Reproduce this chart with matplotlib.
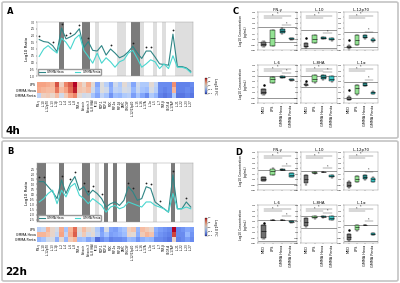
import matplotlib
matplotlib.use("Agg")
import matplotlib.pyplot as plt
import matplotlib.patches as mpatches
import numpy as np

W, H = 400, 283

cytokines = ["IFN-γ", "IL-10", "IL-12p70", "IL-13", "IL-1β", "IL-2", "IL-4", "IL-6",
             "IL-8", "TNF-α", "Eotaxin", "Eotaxin-3", "IL-8 (HA)", "IP-10", "MCP-1",
             "MCP-4", "MDC", "MIP-1α", "MIP-1β", "TARC", "GM-CSF", "IL-12/23p40",
             "IL-15", "IL-16", "IL-17A", "IL-1α", "IL-5", "IL-7", "TNF-β", "VEGF-A",
             "IL-17A/F", "IL-21", "IL-22", "IL-23", "IL-27"]
heat_rows = ["LPS", "GMMA Hexa", "GMMA Penta"]

# 4h log10 ratio
hexa_4h = [1.70, 1.55, 1.50, 1.25, 0.80, 2.55, 1.75, 1.90, 2.10, 2.50, 1.10, 1.55, 0.90,
           0.85, 1.25, 0.55, 1.00, 0.70, 0.35, 0.50, 0.80, 1.20, 0.70, 0.30, 0.85, 0.85,
           0.40, -0.10, -0.15, -0.20, 2.10, -0.30, -0.30, -0.40, -0.65]
penta_4h = [0.45, 1.00, 1.25, 0.95, 0.70, 1.80, 1.50, 1.00, 1.75, 2.05, 0.90, 0.45, -0.05,
            0.70, -0.05, 0.35, 0.05, -0.35, 0.05, 0.20, 0.70, 0.90, 0.30, -0.35, -0.10,
            0.20, 0.05, -0.45, -0.10, -0.45, 0.50, -0.35, -0.35, -0.45, -0.75]
stars_4h = [0, 3, 5, 6, 7, 9, 11, 16, 21, 24, 25, 30]
dark_4h = [5, 10, 11, 21, 22]
light_4h = [13, 18, 19, 23, 26, 28, 31, 32, 33, 34]
lps_fc_4h = [0.45, 0.45, 0.40, 0.35, 0.80, 0.15, 0.60, 0.75, 1.00, 0.30, 0.10, 0.40, 0.05,
             -0.55, 0.00, -0.25, -0.55, -0.10, -0.30, 0.05, -0.15, -0.55, -0.10, -0.30,
             -0.30, 0.05, -0.20, -0.70, -0.70, -0.70, 0.55, -0.75, -0.75, -0.75, -0.70]
hexa_fc_4h = [0.40, 0.35, 0.30, 0.30, 0.65, 0.30, 0.45, 0.70, 0.95, 0.25, 0.20, 0.30, -0.10,
              -0.45, 0.00, -0.10, -0.50, -0.20, -0.25, -0.05, -0.10, -0.45, -0.15, -0.35,
              -0.40, -0.05, -0.25, -0.70, -0.75, -0.70, 0.35, -0.75, -0.75, -0.70, -0.75]
penta_fc_4h = [-0.20, 0.15, 0.20, 0.10, 0.30, -0.10, 0.20, 0.45, 0.60, 0.05, -0.10, -0.05,
               -0.35, -0.55, -0.20, -0.35, -0.65, -0.40, -0.45, -0.30, -0.25, -0.60, -0.35,
               -0.55, -0.70, -0.30, -0.45, -0.75, -0.80, -0.75, -0.30, -0.80, -0.80, -0.75, -0.80]

# 22h log10 ratio
hexa_22h = [1.27, 1.27, 0.77, 0.27, -0.40, 1.43, 0.10, 1.10, 1.77, 0.43, 0.77, -0.07, 0.43,
            0.10, -0.40, -1.23, -0.90, -0.73, -1.07, -0.57, 0.77, 0.27, -0.57, -0.40, 0.77,
            0.60, -0.73, -1.07, -1.40, -1.73, 1.93, -1.40, -1.40, -0.73, -1.23]
penta_22h = [-0.73, -0.40, 0.10, 0.43, -0.90, 0.43, -0.23, 0.77, 1.10, -0.07, -0.40, -0.90,
             -0.40, -0.73, -1.07, -1.73, -1.23, -1.07, -1.40, -1.23, -0.73, -0.90, -1.07,
             -1.23, -0.73, -0.73, -1.07, -1.23, -1.40, -1.73, 0.10, -1.40, -1.40, -1.23, -1.40]
stars_22h = [0, 1, 5, 7, 8, 10, 11, 12, 14, 20, 21, 24, 25, 27, 30, 33]
dark_22h = [0, 1, 5, 10, 11, 15, 17, 20, 21, 22, 30]
light_22h = [13, 26, 32, 33, 34]
lps_fc_22h = [-0.25, -0.15, 0.35, 0.10, -0.05, 0.40, -0.35, 0.35, 0.70, 0.05, 0.30, 0.10,
              0.00, -0.30, -0.60, -0.05, -0.55, -0.60, -0.45, -0.35, 0.15, 0.25, -0.45,
              0.30, 0.20, 0.10, -0.50, -0.60, -0.65, -0.70, 1.00, -0.70, -0.65, -0.55, -0.60]
hexa_fc_22h = [0.35, 0.35, 0.25, 0.10, -0.15, 0.45, -0.20, 0.40, 0.75, -0.05, 0.20, -0.10,
               0.05, -0.25, -0.55, -0.35, -0.60, -0.55, -0.50, -0.40, 0.10, 0.05, -0.50,
               0.20, 0.35, 0.25, -0.55, -0.65, -0.70, -0.75, 0.85, -0.70, -0.70, -0.45, -0.65]
penta_fc_22h = [-0.45, -0.35, -0.10, -0.05, -0.50, 0.05, -0.45, 0.20, 0.35, -0.40, -0.35,
                -0.55, -0.40, -0.85, -0.70, -0.60, -0.75, -0.70, -0.70, -0.65, -0.40, -0.45,
                -0.65, -0.50, -0.40, -0.45, -0.70, -0.70, -0.75, -0.80, 0.10, -0.75, -0.70,
                -0.60, -0.70]

# box plots, log10 pg/mL: [whislo, q1, med, q3, whishi] for MED, LPS, GMMA Hexa, GMMA Penta
box_groups = ["MED", "LPS", "GMMA Hexa", "GMMA Penta"]
box_titles = ["IFN-γ", "IL-10", "IL-12p70", "IL-6", "IL-8HA", "IL-1α"]
c_ifng = [[-1.4, -1.2, -0.9, -0.6, -0.4], [-1.3, -1.2, 0.2, 1.6, 1.7], [1.0, 1.2, 1.5, 1.8, 2.0], [-0.2, 0.0, 0.1, 0.25, 0.3]]
c_il10 = [[-1.6, -1.5, -1.2, -0.8, -0.7], [-0.8, -0.7, 0.0, 0.7, 0.8], [0.0, 0.05, 0.25, 0.4, 0.45], [-0.3, -0.2, 0.0, 0.2, 0.25]]
c_il12 = [[-1.8, -1.7, -1.5, -1.2, -1.1], [-1.1, -1.0, -0.1, 0.7, 0.8], [0.1, 0.2, 0.45, 0.7, 0.8], [-0.5, -0.4, -0.15, 0.1, 0.15]]
c_il6 = [[-0.5, -0.4, 0.0, 0.5, 0.6], [1.6, 1.7, 2.4, 2.7, 2.8], [2.55, 2.6, 2.8, 2.95, 3.0], [2.1, 2.15, 2.25, 2.35, 2.4]]
c_il8 = [[1.2, 1.3, 1.4, 1.5, 1.6], [1.7, 1.8, 2.4, 3.1, 3.2], [2.3, 2.4, 2.8, 3.1, 3.2], [1.9, 2.0, 2.5, 2.9, 3.0]]
c_il1a = [[-1.5, -1.4, -1.2, -0.9, -0.8], [-0.5, -0.4, 0.8, 1.3, 1.4], [1.1, 1.2, 1.4, 1.6, 1.7], [-0.35, -0.3, -0.05, 0.1, 0.15]]
c_fliers = [[], [0.3], [-0.2], [1.35], [2.1], [0.45]]
c_refs = [[2.3, -0.5], [1.65, -1.7], [1.35, -1.4], [3.0, -1.1], [2.9, 1.0], [1.95, -1.1]]

d_ifng = [[-0.35, -0.3, 0.0, 0.4, 0.45], [0.7, 0.75, 1.5, 1.95, 2.0], [1.75, 1.76, 1.77, 1.78, 1.8], [0.4, 0.45, 0.8, 1.15, 1.2]]
d_il10 = [[-1.0, -0.8, 0.0, 0.7, 0.8], [1.0, 1.05, 1.2, 1.35, 1.4], [1.33, 1.34, 1.35, 1.36, 1.37], [0.3, 0.35, 0.5, 0.7, 0.75]]
d_il12 = [[-1.6, -1.5, -1.1, -0.5, -0.4], [-0.5, -0.45, 0.0, 0.55, 0.6], [-0.1, -0.05, 0.4, 0.7, 0.75], [-0.5, -0.45, 0.0, 0.3, 0.35]]
d_il6 = [[-1.2, -1.1, 0.2, 1.3, 1.4], [2.24, 2.25, 2.26, 2.27, 2.28], [2.23, 2.25, 2.26, 2.28, 2.3], [1.75, 1.8, 1.95, 2.05, 2.1]]
d_il8 = [[0.9, 1.05, 1.8, 2.55, 2.6], [2.5, 2.57, 2.8, 3.0, 3.05], [2.65, 2.7, 2.85, 2.98, 3.0], [2.2, 2.26, 2.6, 2.98, 3.0]]
d_il1a = [[-1.6, -1.5, -0.9, -0.35, -0.3], [0.3, 0.35, 0.9, 1.35, 1.4], [1.33, 1.34, 1.35, 1.36, 1.37], [-0.6, -0.55, -0.4, -0.2, -0.15]]
d_fliers = [[], [], [], [1.7], [], [0.45]]
d_refs = [[1.77, -0.95], [1.47, -2.0], [1.47, -2.0], [2.26, -1.7], [3.0, 0.75], [1.35, -1.7]]

hexa_color = "#2f8585"
penta_color = "#48d6cf"
box_colors = ["#6f6f6f", "#93e293", "#2b8a8a", "#3ec6c6"]

fig = plt.figure(figsize=(W / 100, H / 100), dpi=100)


def px(x0, y0, x1, y1):
    return [x0 / W, 1 - y1 / H, (x1 - x0) / W, (y1 - y0) / H]


def line_panel(rect, hexa, penta, stars, dark, light, ylim, yticks):
    ax = fig.add_axes(px(*rect))
    x = np.arange(len(hexa))
    hexa = np.array(hexa)
    penta = np.array(penta)
    for c in dark:
        ax.axvspan(c - 0.5, c + 0.5, color="#7b7b7b", lw=0)
    for c in light:
        ax.axvspan(c - 0.5, c + 0.5, color="#dedede", lw=0)
    ax.plot(x, hexa, color=hexa_color, lw=0.8, label="GMMA Hexa")
    ax.plot(x, penta, color=penta_color, lw=0.8, label="GMMA Penta")
    top = np.maximum(hexa, penta)[stars]
    ax.plot(stars, top + (ylim[1] - ylim[0]) * 0.07, ls="", marker="o", ms=1.3,
            color="#222222", mew=0)
    ax.set_xlim(-0.5, len(hexa) - 0.5)
    ax.set_ylim(*ylim)
    ax.set_xticks([])
    ax.set_yticks(yticks)
    ax.set_yticklabels([f"{t:.1f}" for t in yticks])
    ax.tick_params(labelsize=1.8, length=1, width=0.3, pad=0.5)
    ax.set_ylabel("Log10 Ratio", fontsize=3, labelpad=1)
    for s in ax.spines.values():
        s.set_linewidth(0.3)
        s.set_color("#999999")
    ax.legend(loc="lower left", ncol=2, fontsize=2, frameon=True, handlelength=2,
              borderpad=0.3, columnspacing=4, framealpha=1, edgecolor="#999999")
    return ax


def heat_panel(rect, rows):
    ax = fig.add_axes(px(*rect))
    im = ax.imshow(np.array(rows), cmap="coolwarm", vmin=-1, vmax=1, aspect="auto")
    ax.set_xticks(range(len(cytokines)))
    ax.set_xticklabels(cytokines, rotation=90, fontsize=2)
    ax.set_yticks(range(len(heat_rows)))
    ax.set_yticklabels(heat_rows, fontsize=2.3)
    ax.tick_params(length=0, pad=1)
    for s in ax.spines.values():
        s.set_visible(False)
    return im


def colorbar_panel(rect, im):
    cax = fig.add_axes(px(*rect))
    cb = fig.colorbar(im, cax=cax, ticks=[-1, -0.5, 0, 0.5, 1])
    cb.ax.tick_params(labelsize=1.5, length=0.5, width=0.2, pad=0.3)
    cb.outline.set_linewidth(0.2)
    cb.set_label("Log10 FC", fontsize=2.5, rotation=270, labelpad=3)


def box_panel(rect, title, five, fliers, refs, ylabel, xlabels):
    ax = fig.add_axes(px(*rect))
    stats = []
    for i, f in enumerate(five):
        stats.append(dict(whislo=f[0], q1=f[1], med=f[2], q3=f[3], whishi=f[4],
                          fliers=fliers if i == 0 else []))
    bp = ax.bxp(stats, positions=range(4), widths=0.55, patch_artist=True,
                boxprops=dict(lw=0.3), medianprops=dict(color="k", lw=0.4),
                whiskerprops=dict(lw=0.3), capprops=dict(lw=0.3),
                flierprops=dict(marker="o", ms=0.8, mfc="k", mec="k"))
    for patch, c in zip(bp["boxes"], box_colors):
        patch.set_facecolor(c)
    for r in refs:
        ax.axhline(r, color="#444444", lw=0.4, zorder=0)
    # significance brackets
    hi = max(five[2][4], five[3][4]) + 0.6
    for y, a, b in [(4.3, 0, 3), (3.9, 0, 2), (hi, 2, 3)]:
        ax.plot([a, b], [y, y], color="#444444", lw=0.3)
        ax.text((a + b) / 2, y + 0.02, "*", fontsize=2.2, ha="center", va="bottom")
    ax.set_xlim(-0.6, 3.6)
    ax.set_ylim(-2, 5.0)
    ax.set_yticks(range(-2, 6))
    ax.set_yticklabels([f"$10^{{{t}}}$" for t in range(-2, 6)])
    ax.tick_params(labelsize=1.5, length=0.8, width=0.2, pad=0.3)
    ax.set_title(title, fontsize=2.8, pad=1)
    ax.set_xticks(range(4))
    if xlabels:
        ax.set_xticklabels(box_groups, rotation=90, fontsize=2.5)
    else:
        ax.set_xticklabels([])
    if ylabel:
        ax.set_ylabel("Log10 Concentration\n(pg/mL)", fontsize=2.2, labelpad=1.5)
    for s in ax.spines.values():
        s.set_linewidth(0.3)
        s.set_color("#888888")


# panels A and B
line_panel((37, 22, 193, 76), hexa_4h, penta_4h, stars_4h, dark_4h, light_4h,
           (-1.0, 3.0), np.arange(-1.0, 3.01, 0.5))
im_a = heat_panel((37, 82, 193, 98), [lps_fc_4h, hexa_fc_4h, penta_fc_4h])
colorbar_panel((205, 78, 207, 94), im_a)

line_panel((37, 163, 193, 222), hexa_22h, penta_22h, stars_22h, dark_22h, light_22h,
           (-2.7, 3.1), np.arange(-2.5, 2.51, 0.5))
im_b = heat_panel((37, 227, 193, 242), [lps_fc_22h, hexa_fc_22h, penta_fc_22h])
colorbar_panel((205, 218, 207, 236), im_b)

# panels C and D
cols_x = [(258, 297), (301, 337), (344, 378)]
c_sets = [c_ifng, c_il10, c_il12, c_il6, c_il8, c_il1a]
d_sets = [d_ifng, d_il10, d_il12, d_il6, d_il8, d_il1a]
for k in range(6):
    r, c = divmod(k, 3)
    x0, x1 = cols_x[c]
    y0, y1 = [(12, 50), (65, 103)][r]
    box_panel((x0, y0, x1, y1), box_titles[k], c_sets[k], c_fliers[k], c_refs[k], c == 0, r == 1)
    y0, y1 = [(152, 190), (205, 243)][r]
    box_panel((x0, y0, x1, y1), box_titles[k], d_sets[k], d_fliers[k], d_refs[k], c == 0, r == 1)

# frames, letters, time labels
for y0, y1 in [(2, 138), (141, 281)]:
    fig.patches.append(mpatches.FancyBboxPatch(
        (2 / W, 1 - y1 / H), 396 / W, (y1 - y0) / H, boxstyle="round,pad=0,rounding_size=0.005",
        transform=fig.transFigure, fill=False, edgecolor="#c4c4c4", lw=1.2))
for letter, x, y in [("A", 7, 14), ("B", 7, 154), ("C", 233, 14), ("D", 235, 155)]:
    fig.text(x / W, 1 - y / H, letter, fontsize=6, fontweight="bold")
fig.text(5 / W, 1 - 134 / H, "4h", fontsize=7.5, fontweight="bold")
fig.text(5 / W, 1 - 275 / H, "22h", fontsize=7.5, fontweight="bold")

fig.savefig("out.png", dpi=100)
